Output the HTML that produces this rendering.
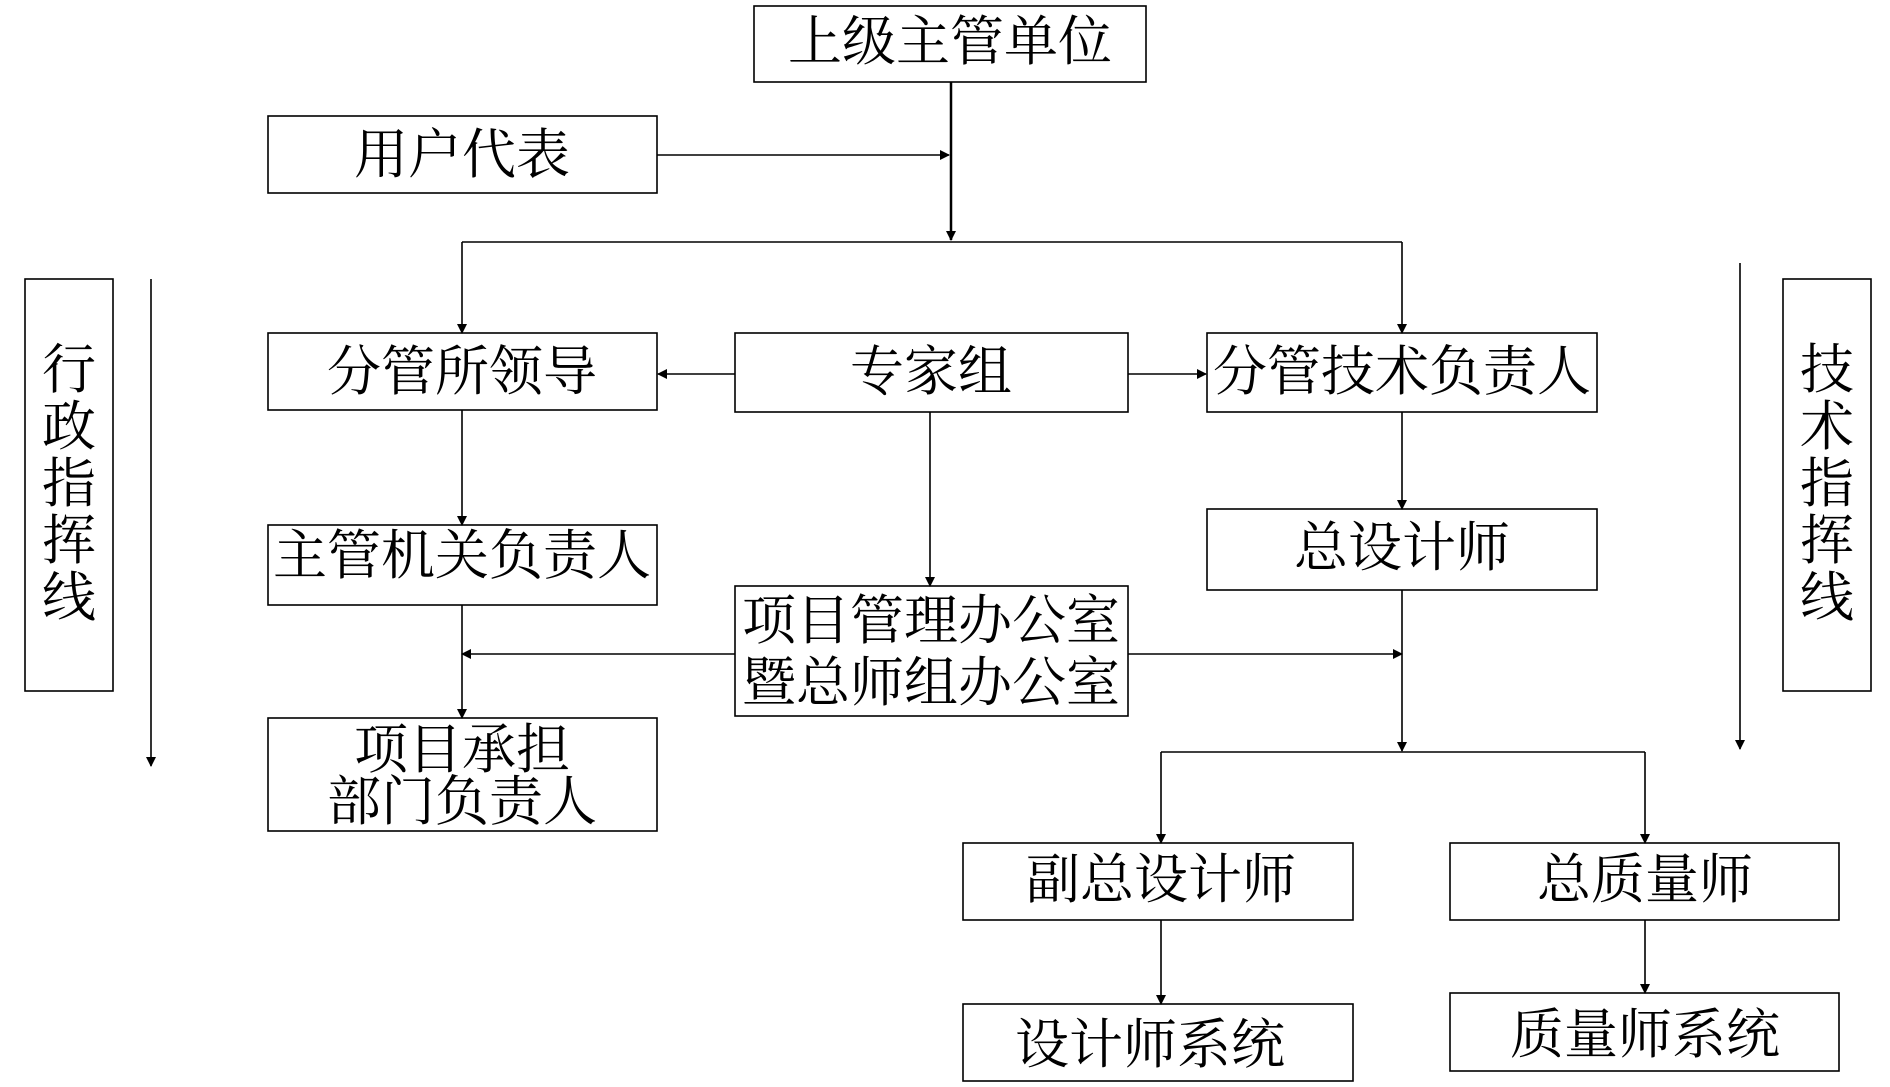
<!DOCTYPE html>
<html><head><meta charset="utf-8"><style>
html,body{margin:0;padding:0;background:#fff;}
svg text{font-family:"Liberation Serif","Noto Serif CJK SC",serif;font-size:54px;fill:#000;text-anchor:middle;dominant-baseline:central;}
</style></head><body>
<svg width="1890" height="1082" viewBox="0 0 1890 1082" xmlns="http://www.w3.org/2000/svg">
<defs><marker id="a" markerWidth="10" markerHeight="10" refX="9" refY="5" orient="auto" markerUnits="userSpaceOnUse"><path d="M0,0 L10,5 L0,10 z" fill="#000"/></marker></defs>
<g fill="none" stroke="#000" stroke-width="1.6">
<rect x="754" y="6" width="392" height="76"/>
<rect x="268" y="116" width="389" height="77"/>
<rect x="268" y="333" width="389" height="77"/>
<rect x="735" y="333" width="393" height="79"/>
<rect x="1207" y="333" width="390" height="79"/>
<rect x="268" y="525" width="389" height="80"/>
<rect x="1207" y="509" width="390" height="81"/>
<rect x="735" y="586" width="393" height="130"/>
<rect x="268" y="718" width="389" height="113"/>
<rect x="963" y="843" width="390" height="77"/>
<rect x="1450" y="843" width="389" height="77"/>
<rect x="963" y="1004" width="390" height="77"/>
<rect x="1450" y="993" width="389" height="78"/>
<rect x="25" y="279" width="88" height="412"/>
<rect x="1783" y="279" width="88" height="412"/>
</g>
<g fill="none" stroke="#000" stroke-width="1.6">
<line x1="951" y1="82" x2="951" y2="240" stroke-width="2.5" marker-end="url(#a)"/>
<line x1="657" y1="155" x2="949" y2="155" marker-end="url(#a)"/>
<line x1="462" y1="242" x2="1402" y2="242"/>
<line x1="462" y1="242" x2="462" y2="333" marker-end="url(#a)"/>
<line x1="1402" y1="242" x2="1402" y2="333" marker-end="url(#a)"/>
<line x1="735" y1="374" x2="658" y2="374" marker-end="url(#a)"/>
<line x1="1128" y1="374" x2="1206" y2="374" marker-end="url(#a)"/>
<line x1="462" y1="410" x2="462" y2="525" marker-end="url(#a)"/>
<line x1="930" y1="412" x2="930" y2="586" marker-end="url(#a)"/>
<line x1="1402" y1="412" x2="1402" y2="509" marker-end="url(#a)"/>
<line x1="735" y1="654" x2="462" y2="654" marker-end="url(#a)"/>
<line x1="1128" y1="654" x2="1402" y2="654" marker-end="url(#a)"/>
<line x1="462" y1="605" x2="462" y2="718" marker-end="url(#a)"/>
<line x1="1402" y1="590" x2="1402" y2="751" marker-end="url(#a)"/>
<line x1="1161" y1="752" x2="1645" y2="752"/>
<line x1="1161" y1="752" x2="1161" y2="843" marker-end="url(#a)"/>
<line x1="1645" y1="752" x2="1645" y2="843" marker-end="url(#a)"/>
<line x1="1161" y1="920" x2="1161" y2="1004" marker-end="url(#a)"/>
<line x1="1645" y1="920" x2="1645" y2="993" marker-end="url(#a)"/>
<line x1="151" y1="279" x2="151" y2="766" marker-end="url(#a)"/>
<line x1="1740" y1="263" x2="1740" y2="749" marker-end="url(#a)"/>
</g>
<text x="950" y="42">上级主管单位</text>
<text x="462" y="155">用户代表</text>
<text x="462" y="372">分管所领导</text>
<text x="931" y="372">专家组</text>
<text x="1402" y="372">分管技术负责人</text>
<text x="462" y="556">主管机关负责人</text>
<text x="1402" y="548">总设计师</text>
<text x="931" y="621">项目管理办公室</text>
<text x="931" y="683">暨总师组办公室</text>
<text x="462" y="750">项目承担</text>
<text x="462" y="802">部门负责人</text>
<text x="1161" y="880">副总设计师</text>
<text x="1645" y="880">总质量师</text>
<text x="1150" y="1045">设计师系统</text>
<text x="1645" y="1035">质量师系统</text>
<text x="69" y="370">行</text><text x="69" y="427">政</text><text x="69" y="484">指</text><text x="69" y="541">挥</text><text x="69" y="598">线</text>
<text x="1827" y="370">技</text><text x="1827" y="427">术</text><text x="1827" y="484">指</text><text x="1827" y="541">挥</text><text x="1827" y="598">线</text>
</svg>
</body></html>
